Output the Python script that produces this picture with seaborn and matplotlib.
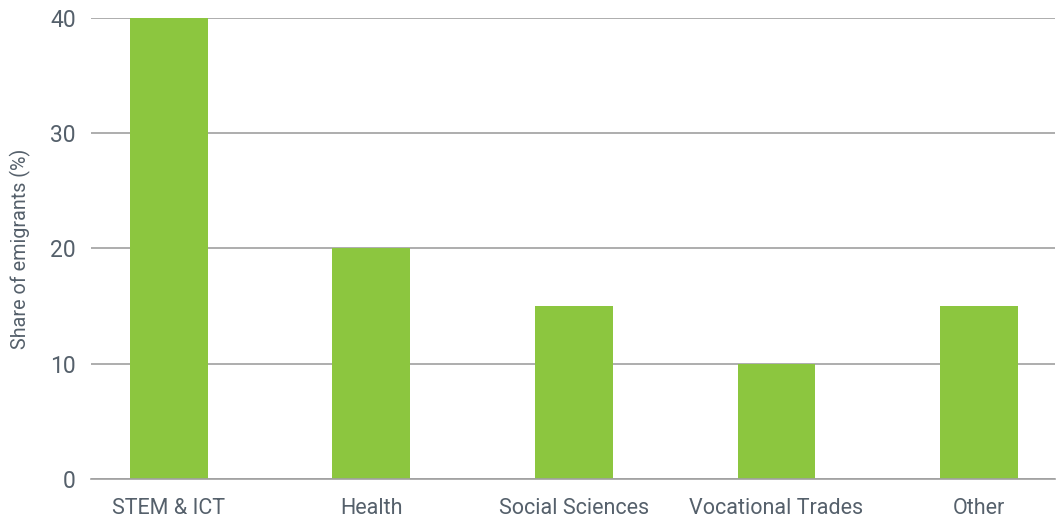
import matplotlib
matplotlib.use("Agg")
import matplotlib.pyplot as plt
import seaborn as sns
import pandas as pd

categories = ["STEM & ICT", "Health", "Social Sciences", "Vocational Trades", "Other"]
shares = [40, 20, 15, 10, 15]
y_ticks = [0, 10, 20, 30, 40]

sns.set_theme(style="white")
plt.rcParams["font.family"] = ["Roboto", "DejaVu Sans"]
plt.rcParams["font.weight"] = "normal"

df = pd.DataFrame({"field": categories, "share": shares})

fig = plt.figure(figsize=(10.59, 5.19), dpi=100)
ax = fig.add_axes([0.0859, 0.0771, 0.9103, 0.8882])

sns.barplot(data=df, x="field", y="share", color="#8cc63f", width=0.385,
            saturation=1, linewidth=0, ax=ax, zorder=3)

ax.set_ylim(0, 40)
ax.set_xlim(-0.385, 4.375)
ax.set_yticks(y_ticks)
ax.yaxis.grid(True, color="#a0a0a0", linewidth=1.2, zorder=0)
ax.xaxis.grid(False)
for side in ["top", "right", "left"]:
    ax.spines[side].set_visible(False)
ax.spines["bottom"].set_color("#a0a0a0")
ax.spines["bottom"].set_linewidth(1.2)
ax.spines["bottom"].set_zorder(4)

text_color = "#55606b"
ax.tick_params(axis="y", length=0, pad=11, labelsize=16.5, labelcolor=text_color)
ax.tick_params(axis="x", length=0, pad=14, labelsize=15.5, labelcolor=text_color)
ax.set_xlabel("")
ax.set_ylabel("Share of emigrants (%)", fontsize=14.2, color=text_color, labelpad=14)

fig.savefig("out.png", dpi=100)
